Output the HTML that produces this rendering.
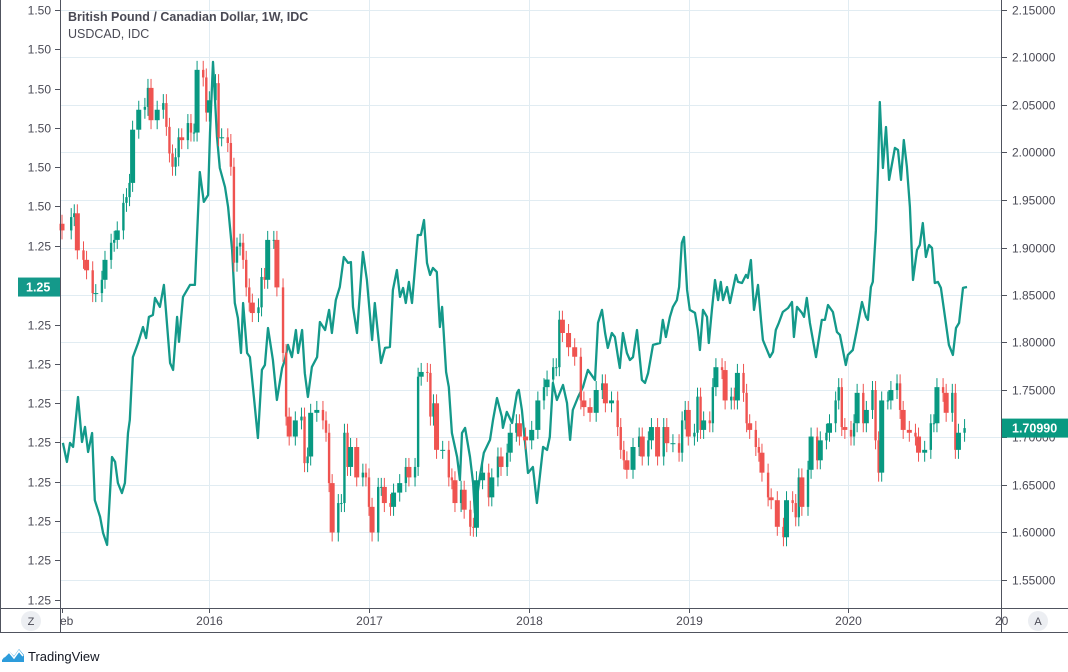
<!DOCTYPE html>
<html><head><meta charset="utf-8">
<style>
html,body{margin:0;padding:0;background:#fff;}
body{width:1068px;height:667px;overflow:hidden;font-family:"Liberation Sans",sans-serif;}
svg text{font-family:"Liberation Sans",sans-serif;}
</style></head>
<body>
<svg id="chart" width="1068" height="667" viewBox="0 0 1068 667" xmlns="http://www.w3.org/2000/svg">
  <rect x="0" y="0" width="1068" height="667" fill="#fff"/>
  <g id="grid"></g>
  <g id="line"></g>
  <g id="candles"></g>
  <g id="axes">
    <line x1="0.5" y1="0" x2="0.5" y2="633" stroke="#50535e" stroke-width="1"/>
    <line x1="60.5" y1="0" x2="60.5" y2="633" stroke="#50535e" stroke-width="1"/>
    <line x1="1001.5" y1="0" x2="1001.5" y2="633" stroke="#50535e" stroke-width="1"/>
    <line x1="0" y1="608.5" x2="1068" y2="608.5" stroke="#50535e" stroke-width="1"/>
    <line x1="0" y1="632.5" x2="1068" y2="632.5" stroke="#50535e" stroke-width="1"/>
  </g>
  <g id="leftAxis"></g>
  <g id="rightAxis"></g>
  <g id="timeAxis"></g>
  <text x="68" y="21" font-size="12.5" font-weight="bold" fill="#4a4a55">British Pound / Canadian Dollar, 1W, IDC</text>
  <text x="68" y="38" font-size="12.5" fill="#4a4a55">USDCAD, IDC</text>
  <g>
    <circle cx="31" cy="621" r="10" fill="#eceef2"/>
    <text x="31" y="625" font-size="11" text-anchor="middle" fill="#4a4a55">Z</text>
  </g>
  <g>
    <circle cx="1038" cy="621" r="10" fill="#eceef2"/>
    <text x="1038" y="625" font-size="11" text-anchor="middle" fill="#4a4a55">A</text>
  </g>
  <g>
    <path d="M2 660 L9 651 L14 656 L19 649 L24 655 L24 662 L2 662 Z" fill="#2d9cdb"/>
    <path d="M4 657 L9 652 L14 658 L19 651 L23 656" fill="none" stroke="#fff" stroke-width="1.6"/>
    <text x="28" y="661" font-size="13" fill="#131722">TradingView</text>
  </g>
</svg>
<script>
// ---- GBPCAD weekly candles (week index from Feb 2015, close price) ----
const candleWeeks = [0,3,4,5,7,8,10,11,13,14,16,17,18,20,21,22,23,25,27,28,29,31,33,34,35,36,37,38,39,41,42,43,44,46,47,48,50,51,52,54,55,56,57,58,59,60,61,62,64,65,66,67,69,70,72,73,74,76,78,79,80,81,83,85,86,87,88,90,91,92,93,94,96,98,99,100,101,103,104,105,107,108,110,112,113,115,116,117,119,120,121,122,124,126,127,128,130,131,133,134,135,137,139,140,142,143,145,146,148,149,151,153,155,157,158,160,161,162,163,165,167,169,170,172,174,176,177,179,181,182,183,184,186,188,189,191,192,194,196,197,199,201,202,203,204,206,207,208,209,211,212,213,215,216,218,219,220,222,223,224,226,227,228,230,231,233,235,236,238,239,240,241,243,244,246,247,249,250,252,253,254,255,257,258,259,261,262,264,265,266,267,269,270,272,273,274,276,278,279,281,283,284,285,287,288,290,291,292,294];
const candleClose = [1.918,1.932,1.936,1.897,1.887,1.876,1.852,1.852,1.866,1.887,1.905,1.908,1.918,1.947,1.953,1.968,2.024,2.045,2.048,2.068,2.034,2.045,2.052,2.027,1.999,1.985,1.995,2.016,2.013,2.031,2.021,2.021,2.087,2.079,2.042,2.055,2.073,2.016,2.016,2.010,1.985,1.884,1.901,1.905,1.887,1.858,1.842,1.831,1.837,1.869,1.866,1.908,1.908,1.858,1.789,1.722,1.701,1.718,1.722,1.673,1.680,1.726,1.729,1.718,1.705,1.652,1.600,1.631,1.631,1.705,1.669,1.690,1.658,1.663,1.658,1.627,1.600,1.648,1.648,1.631,1.627,1.642,1.652,1.669,1.658,1.669,1.764,1.769,1.768,1.722,1.736,1.687,1.687,1.658,1.655,1.631,1.645,1.624,1.606,1.605,1.655,1.663,1.637,1.658,1.680,1.669,1.684,1.705,1.715,1.701,1.697,1.708,1.739,1.753,1.761,1.774,1.774,1.824,1.810,1.795,1.785,1.739,1.732,1.726,1.750,1.757,1.736,1.739,1.711,1.687,1.676,1.666,1.690,1.701,1.680,1.697,1.711,1.680,1.711,1.694,1.694,1.684,1.718,1.729,1.701,1.705,1.743,1.708,1.718,1.715,1.753,1.774,1.771,1.739,1.743,1.739,1.768,1.747,1.715,1.708,1.690,1.684,1.663,1.637,1.634,1.606,1.595,1.634,1.631,1.616,1.658,1.627,1.666,1.701,1.676,1.697,1.705,1.715,1.739,1.753,1.711,1.708,1.701,1.715,1.747,1.715,1.729,1.750,1.697,1.663,1.739,1.739,1.750,1.757,1.729,1.708,1.705,1.701,1.684,1.687,1.715,1.715,1.753,1.747,1.726,1.747,1.687,1.705,1.7099];
const firstOpen = 1.925;

// ---- USDCAD weekly line (week index, close) ----
const lineWeeks = [0.3,1.6,2.6,3.6,5.2,6.5,7.5,8.5,9.8,10.7,12.4,13.4,14.7,16.3,17.3,18.2,19.5,20.5,21.5,22.1,23.1,24.8,26.4,27.4,28.3,29.6,30.3,31.9,33.2,35.2,36.2,37.5,38.1,39.4,41.7,43.3,44.9,46.2,47.6,48.2,49.2,50.5,51.4,53.1,54.1,55.4,56.3,57.3,58.3,59.0,60.3,61.2,62.5,63.8,65.1,66.1,67.1,68.7,70.0,71.7,72.6,73.6,74.9,76.2,76.9,78.2,79.1,80.1,81.4,83.1,84.0,85.7,87.0,87.9,89.2,90.5,91.8,93.2,94.1,94.8,96.1,98.0,99.3,101.0,101.9,103.9,105.2,106.8,107.8,109.1,110.1,111.1,112.0,113.0,114.0,115.9,116.9,117.9,118.9,119.9,120.8,122.1,123.1,123.8,125.1,126.0,127.0,128.7,129.6,130.3,131.3,132.9,133.9,134.5,136.1,137.4,139.4,140.4,141.7,143.3,143.6,144.9,146.6,148.2,148.8,149.8,151.8,153.4,154.7,156.7,158.0,158.9,159.9,161.2,163.2,164.5,165.5,166.4,168.1,169.7,171.3,173.6,174.6,175.9,176.9,177.8,179.1,180.1,181.1,181.7,182.7,184.0,185.0,186.0,187.3,188.9,189.9,190.9,192.5,194.8,195.7,196.7,198.0,199.0,200.3,201.0,201.9,202.6,203.6,204.5,206.2,207.1,207.8,208.8,210.1,210.7,211.7,212.7,213.7,214.6,215.3,216.6,217.6,219.5,220.2,221.5,222.8,223.4,224.4,225.4,226.7,227.7,228.3,230.6,231.6,232.5,233.5,234.8,236.5,237.8,238.4,239.4,241.0,241.7,242.6,243.6,245.6,247.5,248.5,249.5,251.1,252.4,253.4,255.3,256.0,257.6,258.9,260.6,261.9,262.5,263.5,264.1,265.1,265.8,266.4,267.4,268.4,269.4,271.3,272.3,273.3,274.2,275.2,276.2,277.2,278.5,279.4,280.4,281.4,282.4,283.4,284.3,285.3,286.3,287.3,288.9,290.2,291.2,292.2,293.5,294.8];
const lineValues = [1.2434,1.2326,1.2434,1.2411,1.2695,1.2439,1.2525,1.2382,1.2490,1.2109,1.2013,1.1922,1.1854,1.2354,1.2326,1.2206,1.2149,1.2206,1.2490,1.2564,1.2922,1.3002,1.3093,1.3030,1.3150,1.3161,1.3258,1.3207,1.3332,1.2888,1.2849,1.3150,1.3008,1.3264,1.3332,1.3332,1.3974,1.3804,1.3843,1.4196,1.4600,1.4173,1.3997,1.3889,1.3775,1.3531,1.3229,1.3144,1.2945,1.3229,1.2945,1.2922,1.2695,1.2462,1.2849,1.2877,1.3087,1.2905,1.2678,1.2860,1.2905,1.2991,1.2922,1.3076,1.2945,1.3076,1.2831,1.2695,1.2866,1.2922,1.3121,1.3076,1.3190,1.3059,1.3246,1.3320,1.3491,1.3457,1.3462,1.3207,1.3059,1.3519,1.3360,1.3019,1.3229,1.2888,1.2974,1.2979,1.3303,1.3417,1.3264,1.3315,1.3229,1.3349,1.3229,1.3616,1.3616,1.3701,1.3457,1.3389,1.3428,1.3406,1.3093,1.3207,1.2837,1.2752,1.2490,1.2354,1.2223,1.2490,1.2519,1.2354,1.2206,1.2036,1.2240,1.2377,1.2451,1.2564,1.2689,1.2581,1.2519,1.2610,1.2547,1.2718,1.2735,1.2621,1.2263,1.2297,1.2092,1.2411,1.2394,1.2468,1.2775,1.2678,1.2763,1.2661,1.2451,1.2621,1.2695,1.2752,1.2849,1.2792,1.3116,1.3190,1.3059,1.2974,1.3059,1.3036,1.2922,1.2860,1.3059,1.2945,1.2905,1.2922,1.3076,1.2792,1.2775,1.2831,1.2991,1.3002,1.3133,1.3036,1.3150,1.3207,1.3246,1.3320,1.3571,1.3605,1.3303,1.3190,1.3173,1.3076,1.2962,1.3190,1.3150,1.3002,1.3190,1.3360,1.3246,1.3349,1.3246,1.3320,1.3229,1.3389,1.3349,1.3343,1.3389,1.3372,1.3474,1.3190,1.3332,1.3133,1.3019,1.2922,1.2951,1.3076,1.3116,1.3178,1.3201,1.3235,1.3036,1.3207,1.3173,1.3150,1.3258,1.3116,1.2922,1.3133,1.3133,1.3218,1.3178,1.3065,1.3048,1.2877,1.2934,1.2962,1.3076,1.3235,1.3150,1.3133,1.3320,1.3349,1.3644,1.3986,1.4372,1.3997,1.4230,1.3929,1.4111,1.4099,1.3929,1.4156,1.4003,1.3775,1.3360,1.3531,1.3559,1.3684,1.3491,1.3559,1.3542,1.3343,1.3349,1.3315,1.3190,1.2991,1.2934,1.3087,1.3116,1.3315,1.3320];

// ---- axes ----
const rightTicks = [2.15,2.10,2.05,2.00,1.95,1.90,1.85,1.80,1.75,1.70,1.65,1.60,1.55];
const leftTicks = [1.4895,1.4672,1.4448,1.4225,1.4001,1.3778,1.3554,1.3331,1.3107,1.2884,1.2661,1.2437,1.2214,1.1990,1.1767,1.1543];
const leftTickLabels = ["1.50","1.50","1.50","1.50","1.50","1.50","1.25","1.25","1.25","1.25","1.25","1.25","1.25","1.25","1.25","1.25"];
const yearLabels = ["2016","2017","2018","2019","2020"];
const yearWeeks = [47.9,100.0,152.1,204.2,256.0];
const lastLeftLabel = "1.25";

const NS = "http://www.w3.org/2000/svg";
function xScale(w){ return 62 + w*3.07; }
function yRight(v){ return 10 + (2.15 - v)*950; }
function yLeft(v){ return 10 + (1.4895 - v)*1759; }
function mk(tag, attrs, parent){
  const el = document.createElementNS(NS, tag);
  for (const k in attrs) el.setAttribute(k, attrs[k]);
  parent.appendChild(el);
  return el;
}
const grid = document.getElementById('grid');
const candles = document.getElementById('candles');
const lineG = document.getElementById('line');
const leftAxis = document.getElementById('leftAxis');
const rightAxis = document.getElementById('rightAxis');
const timeAxis = document.getElementById('timeAxis');

rightTicks.forEach(v => {
  const y = Math.round(yRight(v)) + 0.5;
  const g = mk('line', {x1:61, x2:1001, y1:y, y2:y, stroke:'#e1ecf2', 'stroke-width':1}, grid);
  
  
  const t = mk('line', {x1:1002, x2:1007, y1:y, y2:y, stroke:'#50535e'}, rightAxis);
  
  
  const tx = mk('text', {x:1012, y:y+4, 'font-size':12, fill:'#4a4a55'}, rightAxis);
  tx.textContent = v.toFixed(5);
  
  
});
yearWeeks.forEach((w, i) => {
  const x = Math.round(xScale(w)) + 0.5;
  const g = mk('line', {x1:x, x2:x, y1:0, y2:608, stroke:'#e1ecf2', 'stroke-width':1}, grid);
  
  
  const t = mk('line', {x1:x, x2:x, y1:609, y2:613, stroke:'#50535e'}, timeAxis);
  
  
  const tx = mk('text', {x:x, y:625, 'font-size':12, 'text-anchor':'middle', fill:'#4a4a55'}, timeAxis);
  tx.textContent = yearLabels[i];
  
  
});
const ebT = mk('text', {x:60, y:625, 'font-size':12, fill:'#4a4a55'}, timeAxis);
ebT.textContent = 'eb';


const t21 = mk('text', {x:995, y:625, 'font-size':12, fill:'#4a4a55'}, timeAxis);
t21.textContent = '20';


const tk0 = mk('line', {x1:62.5, x2:62.5, y1:609, y2:613, stroke:'#50535e'}, timeAxis);



leftTicks.forEach((v, i) => {
  const y = Math.round(yLeft(v)) + 0.5;
  const t = mk('line', {x1:55, x2:60, y1:y, y2:y, stroke:'#50535e'}, leftAxis);
  
  
  if (i === 7) return;
  const tx = mk('text', {x:51, y:y+4, 'font-size':12, 'text-anchor':'end', fill:'#4a4a55'}, leftAxis);
  tx.textContent = leftTickLabels[i];
  
  
});

const pts = lineWeeks.map((w, i) => xScale(w).toFixed(1) + ',' + yLeft(lineValues[i]).toFixed(1)).join(' ');
const pl = mk('polyline', {points:pts, fill:'none', stroke:'#14998a', 'stroke-width':2.3, 'stroke-linejoin':'round'}, lineG);



candleClose.forEach((c, i) => {
  const o = i === 0 ? firstOpen : candleClose[i-1];
  const up = c >= o;
  const col = up ? '#089981' : '#ef5350';
  const x = xScale(candleWeeks[i]);
  const nextW = i < candleWeeks.length - 1 ? candleWeeks[i+1] : candleWeeks[i] + 1;
  const bw = Math.min(5, Math.max(2.4, (nextW - candleWeeks[i]) * 3.07 - 1));
  const yo = yRight(o), yc = yRight(c);
  const top = Math.min(yo, yc), bot = Math.max(yo, yc);
  const w = mk('line', {x1:x, x2:x, y1:top - 9, y2:bot + 9, stroke:col, 'stroke-width':1}, candles);
  
  
  const b = mk('rect', {x:x - bw/2, y:top, width:bw, height:Math.max(1, bot - top), fill:col}, candles);
  
  
});

const lastC = candleClose[candleClose.length-1];
const ry = yRight(lastC);
const rb = mk('rect', {x:1002, y:ry-9.5, width:66, height:19, fill:'#089981'}, rightAxis);


const rt = mk('text', {x:1012, y:ry+4.5, 'font-size':12.5, 'font-weight':'bold', fill:'#fff'}, rightAxis);
rt.textContent = lastC.toFixed(5);



const lastL = lineValues[lineValues.length-1];
const ly = yLeft(lastL);
const lb = mk('rect', {x:18, y:ly-9.5, width:42, height:19, fill:'#14998a'}, leftAxis);


const lt = mk('text', {x:26, y:ly+4.5, 'font-size':12.5, 'font-weight':'bold', fill:'#fff'}, leftAxis);
lt.textContent = lastLeftLabel;


</script>
</body></html>
